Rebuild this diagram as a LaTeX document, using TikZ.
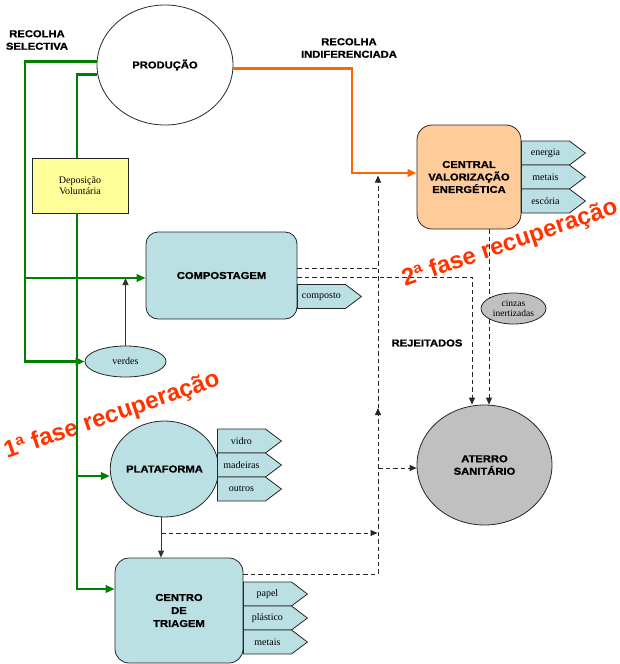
\documentclass[tikz,border=0pt]{standalone}
\usepackage{fontspec}
\setmainfont{Liberation Serif}
\newfontfamily\hb{Liberation Sans}[FakeStretch=1.12, BoldFeatures={FakeBold=1.3}]
\newfontfamily\rb{Liberation Sans}
\usetikzlibrary{arrows.meta,shapes.geometric,shapes.symbols}
\definecolor{lblue}{HTML}{BBE0E3}
\definecolor{peach}{HTML}{FFCC99}
\definecolor{lyellow}{HTML}{FFFF99}
\definecolor{lgray}{HTML}{C0C0C0}
\definecolor{ggreen}{HTML}{008000}
\definecolor{orng}{HTML}{FF6600}
\definecolor{redt}{HTML}{FF3300}
\begin{document}
\begin{tikzpicture}[x=1pt,y=-1pt,
  hdr/.style={font=\hb\bfseries\fontsize{10}{12.5}\selectfont, align=center},
  serift/.style={font=\fontsize{10}{11.5}\selectfont, align=center},
  outl/.style={draw=black!85, line width=0.8pt},
  tag/.style={signal, signal to=east, signal pointer angle=74, outl, fill=lblue,
    minimum width=64pt, minimum height=24pt, inner sep=0pt, anchor=west, serift},
  rbox/.style={rectangle, outl, fill=lblue, inner sep=0pt, hdr},
  ell/.style={ellipse, outl, inner sep=0pt},
  gline/.style={draw=ggreen, line width=2.6pt},
  garr/.style={-{Triangle[length=9pt,width=7.5pt]}},
  oline/.style={draw=orng, line width=2.6pt, -{Triangle[length=9pt,width=7.5pt]}},
  barr/.style={draw=black!80, line width=0.9pt, -{Triangle[length=7pt,width=6pt]}},
  dline/.style={draw=black!85, line width=1pt, dash pattern=on 4.5pt off 3pt},
  darr/.style={-{Triangle[length=7pt,width=6pt]}},
  fase/.style={text=redt, font=\rb\bfseries\fontsize{24}{26}\selectfont, rotate=19}
]
\useasboundingbox (0,0) rectangle (620,664);

% nodes
\node[ell, minimum width=136pt, minimum height=120pt, hdr] (prod) at (165,65) {PRODUÇÃO};
\node[hdr] (rs) at (37,40) {RECOLHA\\SELECTIVA};
\node[hdr] (ri) at (349,48) {RECOLHA\\INDIFERENCIADA};
\node[rectangle, outl, fill=lyellow, minimum width=96pt, minimum height=55pt, serift] (dep) at (80,185.5) {Deposição\\Voluntária};
\node[rbox, rounded corners=12pt, minimum width=151pt, minimum height=87pt] (comp) at (221.5,275.5) {COMPOSTAGEM};
\node[tag] (compo) at (297,296.5) {composto};
\node[ell, fill=lblue, minimum width=81pt, minimum height=31pt, serift] (verdes) at (125.5,361.5) {verdes};
\node[ell, fill=lblue, minimum width=103pt, minimum height=96pt, hdr] (plat) at (164.5,469) {PLATAFORMA};
\node[tag] (vidro) at (217,441) {vidro};
\node[tag] (madeiras) at (217,465) {madeiras};
\node[tag] (outros) at (217,489) {outros};
\node[rbox, rounded corners=14pt, minimum width=128pt, minimum height=105pt, font=\hb\bfseries\fontsize{10}{13}\selectfont] (cdt) at (179,610.5) {CENTRO\\DE\\TRIAGEM};
\node[tag] (papel) at (243,594) {papel};
\node[tag] (plastico) at (243,618) {plástico};
\node[tag] (metais1) at (243,642) {metais};
\node[rbox, fill=peach, rounded corners=15pt, minimum width=104pt, minimum height=104pt] (cve) at (469,177) {CENTRAL\\VALORIZAÇÃO\\ENERGÉTICA};
\node[tag] (energia) at (521,153) {energia};
\node[tag] (metais2) at (521,177) {metais};
\node[tag] (escoria) at (521,201) {escória};
\node[ell, fill=lgray, minimum width=135pt, minimum height=120pt, hdr] (at) at (484.5,465) {ATERRO\\SANITÁRIO};
\node[hdr] (rej) at (427,343) {REJEITADOS};
\node[fase] (f1) at (112,416) {1ª fase recuperação};
\node[fase] (f2) at (510,244) {2ª fase recuperação};

% coordinates
\coordinate (g3) at (25,361.5);
\coordinate (g2) at (25,278);
\coordinate (ix) at (77,0);
\coordinate (g5) at (77,589);
\coordinate (g6) at (77,476);
\coordinate (o2) at (352,173);
\coordinate (d1) at (378,574);
\coordinate (d2) at (378,408);
\coordinate (d3) at (378,468);
\coordinate (d4) at (378,268);
\coordinate (d5) at (378,175.5);
\coordinate (d6) at (377.5,533);
\coordinate (pj) at (161,533);
\coordinate (px) at (161,0);
\coordinate (d7) at (472,277);
\coordinate (d8) at (489,0);

% green connectors
\draw[gline, garr] (prod.177) -| (g3) -- (verdes.west);
\draw[gline, garr] (g2) -- (comp.west |- g2);
\draw[gline] (prod.188) -| (dep.north -| ix);
\draw[gline, garr] (dep.south -| ix) -- (g5) -- (cdt.west |- g5);
\draw[gline, garr] (g6) -- (plat.west |- g6);
\draw[barr] (verdes.north) -- (verdes.north |- g2);

% orange connector
\draw[oline] (prod.-3.5) -| (o2) -- (cve.west |- o2);

% black / dashed connectors
\draw[barr] (plat.south -| px) -- (cdt.north -| px);
\draw[dline, darr] (pj) -- (d6);
\draw[dline, darr] (cdt.east |- d1) -- (d1) -- (d2);
\draw[dline, darr] (d2) -- (d5);
\draw[dline, darr] (d3) -- (at.west |- d3);
\draw[dline] (comp.east |- d4) -- (d4);
\draw[dline, darr] (comp.east |- d7) -| (at.north -| d7);
\draw[dline, darr] (cve.south -| d8) -- (at.north -| d8);

\node[ell, fill=lgray, minimum width=65pt, minimum height=31pt, font=\fontsize{9.5}{10.5}\selectfont, align=center] (cinz) at (513.5,308.5) {cinzas\\inertizadas};
\end{tikzpicture}
\end{document}
